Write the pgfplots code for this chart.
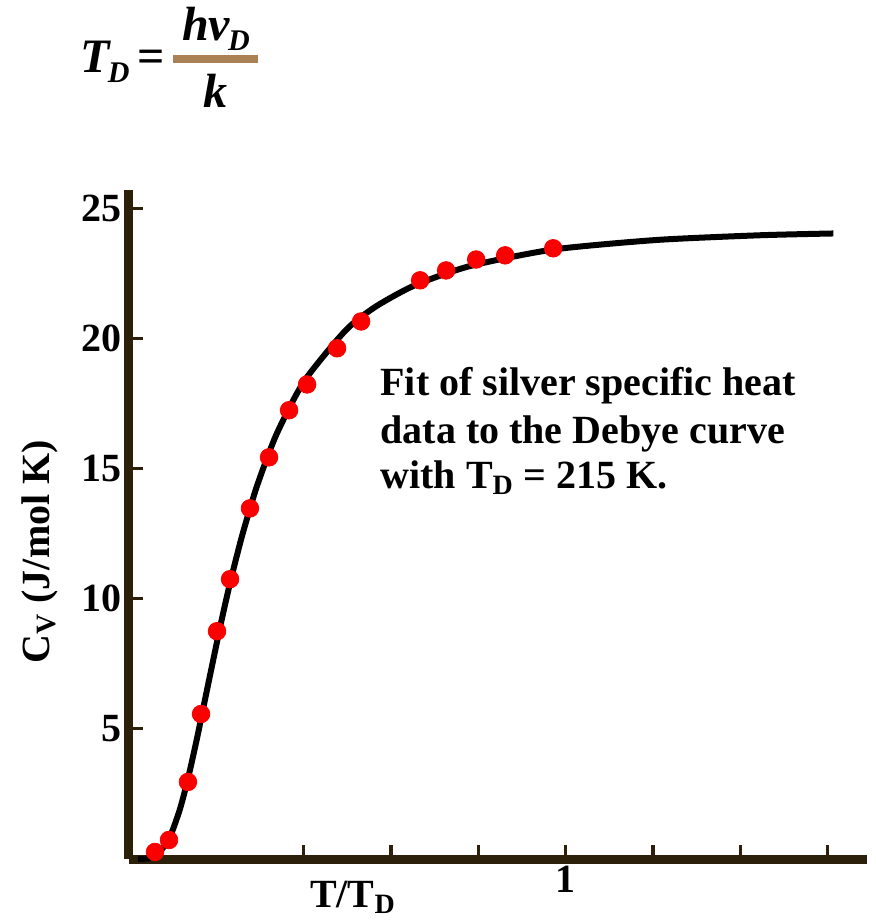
\documentclass[border=0pt]{standalone}
\usepackage{fontspec}
\setmainfont{Liberation Serif}
\usepackage{pgfplots}
\pgfplotsset{compat=1.18}
\definecolor{axcol}{RGB}{45,32,10}
\definecolor{barcol}{RGB}{170,128,85}
\definecolor{ptred}{RGB}{250,0,0}
\newcommand{\bigf}{\fontsize{20}{23}\selectfont\bfseries}
\newcommand{\frmf}{\fontsize{24}{28}\selectfont\bfseries\itshape}
\newcommand{\fsub}[1]{\raisebox{-5pt}{\fontsize{15}{15}\selectfont #1}}
\begin{document}
\begin{tikzpicture}
\begin{axis}[
  at={(0,0)}, anchor=south west,
  scale only axis, width=369pt, height=334.5pt,
  xmin=0, xmax=1.69, ymin=0, ymax=25.7,
  axis x line=bottom, axis y line=left,
  axis line style={-, line width=4.5pt, color=axcol},
  xtick={0.4,0.6,0.8,1,1.2,1.4,1.6}, xticklabels={,,,1,,,},
  ytick={5,10,15,20,25}, yticklabels={5,10,15,20,25},
  tick align=inside, major tick length=7pt,
  tick style={line width=1.6pt, color=axcol},
  ticklabel style={font=\bigf, text=black},
  clip=false,
]
\addplot[black, line width=3pt, smooth, tension=0.4] coordinates {
(0.0206,0) (0.0396,0.015) (0.0491,0.052) (0.0586,0.123) (0.0681,0.240)
(0.0840,0.568) (0.0998,1.102) (0.1157,1.865) (0.1262,2.496) (0.1394,3.399)
(0.1565,4.695) (0.1791,6.534) (0.2107,9.069) (0.2318,10.628) (0.2583,12.376)
(0.2922,14.286) (0.3375,16.305) (0.4009,18.349) (0.4960,20.306) (0.5638,21.208)
(0.6544,22.039) (0.7812,22.780) (0.9713,23.413) (1.2090,23.781) (1.4467,23.962)
(1.6130,24.03)
};
\addplot[only marks, mark=*, mark size=4.4pt, color=ptred, mark options={draw=ptred, fill=ptred}] coordinates {
(0.0596,0.27) (0.0916,0.73) (0.135,2.96) (0.165,5.57) (0.2016,8.75)
(0.2314,10.75) (0.277,13.47) (0.3207,15.43) (0.3666,17.24) (0.4078,18.23)
(0.4765,19.62) (0.5315,20.65) (0.6667,22.23) (0.7262,22.61) (0.795,23.03)
(0.8614,23.19) (0.9714,23.46)
};
\node[anchor=base west, font=\bigf, inner sep=0] at (axis cs:0.575,17.79) {Fit of silver specific heat};
\node[anchor=base west, font=\bigf, inner sep=0] at (axis cs:0.575,15.98) {data to the Debye curve};
\node[anchor=base west, font=\bigf, inner sep=0] at (axis cs:0.575,14.25) {with T\textsubscript{D} = 215 K.};
\node[rotate=90, font=\bigf, inner sep=0] at (axis cs:-0.204,11.8) {C\textsubscript{V} (J/mol K)};
\node[anchor=base, font=\bigf, inner sep=0] at (axis cs:0.513,-1.85) {T/T\textsubscript{D}};
\node[anchor=base west, inner sep=0, font=\frmf] at (axis cs:-0.112,30.2) {T\kern-1pt\fsub{D}};
\node[anchor=base, inner sep=0, font=\fontsize{24}{28}\selectfont\bfseries] at (axis cs:0.050,30.2) {=};
\draw[barcol, line width=4pt] (axis cs:0.1008,30.73) -- (axis cs:0.2955,30.73);
\node[anchor=base, inner sep=0, font=\frmf] at (axis cs:0.199,31.46) {hν\kern-1pt\fsub{D}};
\node[anchor=base, inner sep=0, font=\frmf] at (axis cs:0.199,28.85) {k};
\end{axis}
\pgfresetboundingbox
\path[use as bounding box] (-64.5pt,-31pt) rectangle (373.5pt,429.5pt);
\end{tikzpicture}
\end{document}
